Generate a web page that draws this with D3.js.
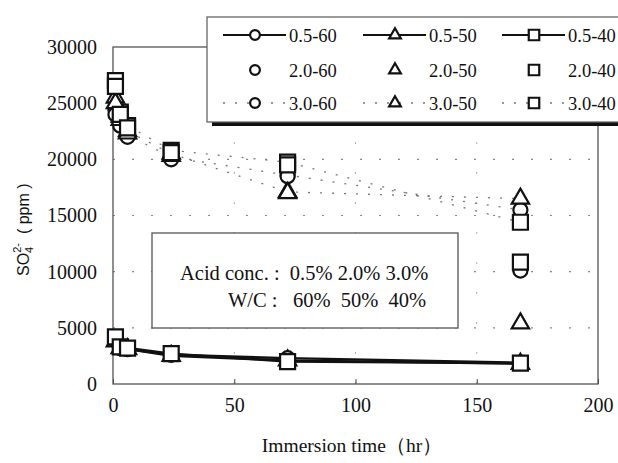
<!DOCTYPE html>
<html>
<head>
<meta charset="utf-8">
<script src="https://cdn.jsdelivr.net/npm/d3@7"></script>
<style>
  body { margin: 0; background: #fff; }
  text { font-family: 'Liberation Serif', 'Times New Roman', serif; fill: #111; }
</style>
</head>
<body>
<div id="chart"></div>
<script>
// immersion times (hr)
let times = [1, 3, 6, 24, 72, 168]

// SO4 2- concentration (ppm), acid conc - W/C
let s05_60 = [3900, 3200, 3100, 2600, 2300, 1900]
let s05_50 = [3800, 3200, 3100, 2500, 2100, 1800]
let s05_40 = [4200, 3300, 3200, 2700, 2000, 1850]

let s20_60 = [24000, 23000, 22000, 20000, 18500, 10100]
let s20_50 = [25000, 23500, 22300, 20300, 17000, 5400]
let s20_40 = [26500, 24000, 22800, 20600, 19500, 10850]

let s30_60 = [24400, 23500, 22150, 20200, 18600, 15500]
let s30_50 = [25500, 23800, 22500, 20500, 17100, 16500]
let s30_40 = [27000, 24200, 23000, 20800, 19750, 14400]

let xTicks = [0, 50, 100, 150, 200]
let yTicks = [0, 5000, 10000, 15000, 20000, 25000, 30000]
let yGrid = [5000, 10000, 15000, 20000]

let series = [
  { name: '0.5-60', shape: 'circle', style: 'solid', values: s05_60 },
  { name: '0.5-50', shape: 'triangle', style: 'solid', values: s05_50 },
  { name: '0.5-40', shape: 'square', style: 'solid', values: s05_40 },
  { name: '2.0-60', shape: 'circle', style: 'none', values: s20_60 },
  { name: '2.0-50', shape: 'triangle', style: 'none', values: s20_50 },
  { name: '2.0-40', shape: 'square', style: 'none', values: s20_40 },
  { name: '3.0-60', shape: 'circle', style: 'dotted', values: s30_60 },
  { name: '3.0-50', shape: 'triangle', style: 'dotted', values: s30_50 },
  { name: '3.0-40', shape: 'square', style: 'dotted', values: s30_40 }
]

let width = 618
let height = 463

let svg = d3.select('#chart')
  .append('svg')
  .attr('width', width)
  .attr('height', height)

let x = d3.scaleLinear().domain([0, 200]).range([113, 598])
let y = d3.scaleLinear().domain([0, 30000]).range([384, 47])

// grid
svg.selectAll('.hgrid')
  .data(yGrid)
  .enter()
  .append('line')
  .attr('x1', x(0)).attr('x2', x(200))
  .attr('y1', d => y(d)).attr('y2', d => y(d))
  .attr('stroke', '#888')
  .attr('stroke-width', 1.2)
  .attr('stroke-dasharray', '2,17')

svg.selectAll('.vgrid')
  .data(xTicks.slice(1, -1))
  .enter()
  .append('line')
  .attr('x1', d => x(d)).attr('x2', d => x(d))
  .attr('y1', y(0)).attr('y2', y(30000))
  .attr('stroke', '#aaa')
  .attr('stroke-width', 1)
  .attr('stroke-dasharray', '2,28')

// axes
let xAxis = d3.axisBottom(x).tickValues(xTicks).tickFormat(d3.format('d'))
  .tickSizeInner(-5).tickSizeOuter(0).tickPadding(14)
let yAxis = d3.axisLeft(y).tickValues(yTicks).tickFormat(d3.format('d'))
  .tickSizeInner(0).tickSizeOuter(0).tickPadding(16)

let gx = svg.append('g').attr('transform', `translate(0,${y(0)})`).call(xAxis)
let gy = svg.append('g').attr('transform', `translate(${x(0)},0)`).call(yAxis)
gx.select('.domain').remove()
gy.select('.domain').remove()
gx.attr('font-family', 'Liberation Serif').attr('font-size', 20)
gy.attr('font-family', 'Liberation Serif').attr('font-size', 20)
gx.selectAll('text').attr('fill', '#111')
gy.selectAll('text').attr('fill', '#111')
gx.selectAll('line').attr('stroke', '#444')

// frame
svg.append('rect')
  .attr('x', x(0)).attr('y', y(30000))
  .attr('width', x(200) - x(0)).attr('height', y(0) - y(30000))
  .attr('fill', 'none')
  .attr('stroke', '#555')
  .attr('stroke-width', 1.3)

// lines
let line = d3.line()
  .x((d, i) => x(times[i]))
  .y(d => y(d))

svg.selectAll('.series-line')
  .data(series.filter(s => s.style !== 'none'))
  .enter()
  .append('path')
  .attr('class', 'series-line')
  .attr('d', s => line(s.values))
  .attr('fill', 'none')
  .attr('stroke', s => s.style === 'solid' ? '#111' : '#777')
  .attr('stroke-width', s => s.style === 'solid' ? 2.4 : 1.3)
  .attr('stroke-dasharray', s => s.style === 'solid' ? null : '2,10')

function symbolFor(shape, big) {
  if (shape === 'circle') return d3.symbol(d3.symbolCircle, big ? 155 : 75)()
  if (shape === 'square') return d3.symbol(d3.symbolSquare, big ? 225 : 110)()
  return d3.symbol(d3.symbolTriangle, big ? 130 : 60)()
}

// markers (draw 3.0, 2.0 then 0.5 so the low ones sit on top of the lines)
let order = [6, 7, 8, 3, 4, 5, 1, 0, 2].map(i => series[i])
order.forEach(s => {
  svg.selectAll(null)
    .data(s.values)
    .enter()
    .append('path')
    .attr('d', symbolFor(s.shape, true))
    .attr('transform', (d, i) => `translate(${x(times[i])},${y(d)})`)
    .attr('fill', '#fff')
    .attr('stroke', '#111')
    .attr('stroke-width', 2.2)
})

// note box
let note = svg.append('g')
note.append('rect')
  .attr('x', 152).attr('y', 233)
  .attr('width', 306).attr('height', 95)
  .attr('fill', '#fff')
  .attr('stroke', '#555')
  .attr('stroke-width', 1.3)
note.append('text')
  .attr('x', 180).attr('y', 280)
  .attr('font-size', 20.5)
  .attr('xml:space', 'preserve')
  .text('Acid conc. :  0.5% 2.0% 3.0%')
note.append('text')
  .attr('x', 228).attr('y', 307)
  .attr('font-size', 20.5)
  .attr('xml:space', 'preserve')
  .text('W/C :   60%  50%  40%')

// legend
let legend = svg.append('g')
legend.append('rect')
  .attr('x', 212).attr('y', 120)
  .attr('width', 420).attr('height', 6)
  .attr('fill', '#111')
legend.append('rect')
  .attr('x', 207).attr('y', 17)
  .attr('width', 430).attr('height', 105)
  .attr('fill', '#fff')
  .attr('stroke', '#666')
  .attr('stroke-width', 1.3)

let colX = [223, 363, 502]
let rowY = [35, 70, 103]

legend.selectAll('.legend-entry')
  .data(series)
  .enter()
  .append('g')
  .attr('class', 'legend-entry')
  .attr('transform', (d, i) => `translate(${colX[i % 3]},${rowY[Math.floor(i / 3)]})`)
  .each(function (d) {
    let g = d3.select(this)
    if (d.style !== 'none') {
      g.append('line')
        .attr('x1', 0).attr('x2', 63)
        .attr('stroke', d.style === 'solid' ? '#111' : '#777')
        .attr('stroke-width', d.style === 'solid' ? 1.8 : 1.3)
        .attr('stroke-dasharray', d.style === 'solid' ? null : '2,10')
    }
    g.append('path')
      .attr('d', symbolFor(d.shape, false))
      .attr('transform', 'translate(32,0)')
      .attr('fill', '#fff')
      .attr('stroke', '#111')
      .attr('stroke-width', 2.2)
    g.append('text')
      .text(d.name)
      .attr('x', 66)
      .attr('y', 6.5)
      .attr('font-size', 18.5)
  })

// axis titles
svg.append('text')
  .attr('x', 352).attr('y', 452)
  .attr('text-anchor', 'middle')
  .attr('font-size', 19.5)
  .text('Immersion time（hr）')

let yt = svg.append('g')
  .attr('transform', 'translate(29,218) rotate(-90)')
let ytext = yt.append('text')
  .attr('x', -58)
  .style('font-family', 'Liberation Sans')
  .attr('font-size', 16)
ytext.append('tspan').text('SO')
ytext.append('tspan').text('4').attr('font-size', 11).attr('dy', 4)
ytext.append('tspan').text('2-').attr('font-size', 11).attr('dx', -6).attr('dy', -12)
ytext.append('tspan').text('  ( ppm )').attr('dy', 8).attr('xml:space', 'preserve')
</script>
</body>
</html>
